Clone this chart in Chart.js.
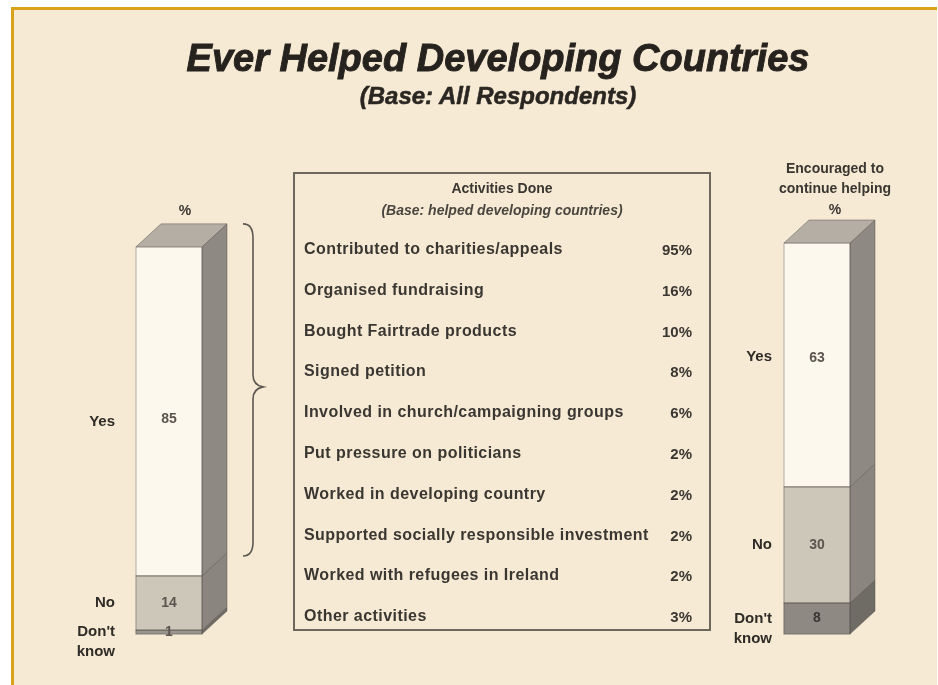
<!DOCTYPE html>
<html>
<head>
<meta charset="utf-8">
<script src="https://cdn.jsdelivr.net/npm/chart.js@4/dist/chart.umd.min.js"></script>
<style>
  html, body { margin: 0; padding: 0; background: #ffffff; }
  #frame {
    position: absolute; left: 11px; top: 7px; width: 926px; height: 678px;
    background: #f6ead5; border-left: 3px solid #d9a21b; border-top: 3px solid #d9a21b;
    box-sizing: border-box; overflow: hidden;
  }
  #wrap { position: absolute; left: 0; top: 0; width: 938px; height: 685px; }
  #chart { position: absolute; left: 0; top: 0; }
  .t { position: absolute; font-family: "Liberation Sans", Arial, sans-serif; color: #2f2b27; white-space: nowrap; }
  #title { left: 0; width: 996px; top: 37px; text-align: center; font-size: 38px; font-weight: bold; font-style: italic; color: #26221e; -webkit-text-stroke: 0.9px #26221e; }
  #subtitle { left: 0; width: 996px; top: 82px; text-align: center; font-size: 24px; font-weight: bold; font-style: italic; color: #2a2622; -webkit-text-stroke: 0.5px #2a2622; }
  #box { position: absolute; left: 293px; top: 172px; width: 418px; height: 459px; border: 2px solid #6d675e; box-sizing: border-box; }
  .hd { position: absolute; left: 0; width: 414px; text-align: center; font-family: "Liberation Sans", Arial, sans-serif; color: #3a3631; white-space: nowrap; }
  .row { position: absolute; left: 9px; font-family: "Liberation Sans", Arial, sans-serif; font-weight: bold; font-size: 16px; letter-spacing: 0.45px; color: #3a3631; white-space: nowrap; }
  .pct { position: absolute; right: 17px; font-family: "Liberation Sans", Arial, sans-serif; font-weight: bold; font-size: 15px; color: #3a3631; white-space: nowrap; text-align: right; }
  .head2 { position: absolute; left: 760px; width: 150px; text-align: center; font-family: "Liberation Sans", Arial, sans-serif; font-weight: bold; font-size: 14px; color: #3a3631; white-space: nowrap; }
</style>
</head>
<body>
<div id="frame"></div>
<div id="wrap">
  <canvas id="chart" width="938" height="685"></canvas>
  <div class="t" id="title">Ever Helped Developing Countries</div>
  <div class="t" id="subtitle">(Base: All Respondents)</div>
  <div class="head2" style="left:120px;width:130px;top:202px;">%</div>
  <div class="head2" style="top:160px;">Encouraged to</div>
  <div class="head2" style="top:180px;">continue helping</div>
  <div class="head2" style="top:201px;">%</div>
  <div id="box"></div>
</div>
<script>
// Stacked answers for the two survey questions (percent)
const bars = ['Ever helped', 'Encouraged to continue helping'];
const answers = ['Yes', 'No', "Don't know"];
const yesValues = [85, 63];
const noValues = [14, 30];
const dontKnowValues = [1, 8];

// Activities done by those who helped (percent)
const activities = [
  'Contributed to charities/appeals',
  'Organised fundraising',
  'Bought Fairtrade products',
  'Signed petition',
  'Involved in church/campaigning groups',
  'Put pressure on politicians',
  'Worked in developing country',
  'Supported socially responsible investment',
  'Worked with refugees in Ireland',
  'Other activities'
];
const activityValues = [95, 16, 10, 8, 6, 2, 2, 2, 2, 3];

// Activities table
const box = document.getElementById('box');
box.insertAdjacentHTML('beforeend',
  '<div class="hd" style="top:6px;font-size:14px;font-weight:bold;">Activities Done</div>' +
  '<div class="hd" style="top:28px;font-size:14px;font-style:italic;font-weight:bold;color:#4a463f;">(Base: helped developing countries)</div>');
activities.forEach((name, i) => {
  const top = 66 + i * 40.8;
  box.insertAdjacentHTML('beforeend',
    '<div class="row" style="top:' + top + 'px">' + name + '</div>' +
    '<div class="pct" style="top:' + (top + 1) + 'px">' + activityValues[i] + '%</div>');
});

// Stack order bottom-up: Don't know, No, Yes
const stackData = [dontKnowValues, noValues, yesValues];
const stackNames = [answers[2], answers[1], answers[0]];
const frontColors = [['#9a958d', '#8e8982'], '#cdc7b9', '#fdf8ee'];
const sideColors = ['#6f6b65', '#8a867f', '#8e8a83'];
const topColor = '#b4aea4';
const depthX = 25, depthY = 23;
const labelGap = [21, 12];
// vertical nudge of the "Yes" label per column
const yesLabelShift = [10, -8];

const cube = {
  id: 'cube',
  afterDatasetsDraw(chart) {
    const ctx = chart.ctx;
    ctx.save();
    const n = chart.data.labels.length;
    for (let b = 0; b < n; b++) {
      let topEl = null;
      chart.data.datasets.forEach((ds, d) => {
        const el = chart.getDatasetMeta(d).data[b];
        const p = el.getProps(['x', 'y', 'base', 'width'], true);
        const r = p.x + p.width / 2, l = p.x - p.width / 2;
        // right-hand face of the segment
        ctx.fillStyle = sideColors[d];
        ctx.beginPath();
        ctx.moveTo(r, p.base);
        ctx.lineTo(r + depthX, p.base - depthY);
        ctx.lineTo(r + depthX, p.y - depthY);
        ctx.lineTo(r, p.y);
        ctx.closePath();
        ctx.fill();
        ctx.strokeStyle = 'rgba(80,76,70,0.45)';
        ctx.lineWidth = 1;
        ctx.stroke();
        // outline of the front face
        ctx.strokeRect(l, p.y, p.width, p.base - p.y);
        topEl = p;
      });
      // lid of the column
      const l = topEl.x - topEl.width / 2, r = topEl.x + topEl.width / 2;
      ctx.fillStyle = topColor;
      ctx.beginPath();
      ctx.moveTo(l, topEl.y);
      ctx.lineTo(l + depthX, topEl.y - depthY);
      ctx.lineTo(r + depthX, topEl.y - depthY);
      ctx.lineTo(r, topEl.y);
      ctx.closePath();
      ctx.fill();
      ctx.strokeStyle = 'rgba(80,76,70,0.45)';
      ctx.stroke();
    }

    // values and answer labels
    ctx.textBaseline = 'middle';
    for (let b = 0; b < n; b++) {
      chart.data.datasets.forEach((ds, d) => {
        const el = chart.getDatasetMeta(d).data[b];
        const p = el.getProps(['x', 'y', 'base', 'width'], true);
        const cy = (p.y + p.base) / 2;
        const name = ds.label;
        const shift = name === 'Yes' ? yesLabelShift[b] : 0;
        ctx.font = 'bold 14px "Liberation Sans", Arial, sans-serif';
        ctx.fillStyle = d === 0 && b === 1 ? '#3a3631' : '#5a554e';
        ctx.textAlign = 'center';
        ctx.fillText(String(ds.data[b]), p.x, cy + shift * 0.8);
        ctx.font = 'bold 15px "Liberation Sans", Arial, sans-serif';
        ctx.fillStyle = '#2f2b27';
        ctx.textAlign = 'right';
        const lx = p.x - p.width / 2 - labelGap[b];
        if (name === "Don't know") {
          ctx.fillText("Don't", lx, cy);
          ctx.fillText('know', lx, cy + 20);
        } else {
          ctx.fillText(name, lx, cy + shift);
        }
      });
    }

    // brace grouping the "Yes" answers with the activities table
    const yesEl = chart.getDatasetMeta(2).data[0].getProps(['x', 'y', 'base', 'width'], true);
    const bx = yesEl.x + yesEl.width / 2 + depthX + 26;
    const top = yesEl.y - depthY, bot = yesEl.base - 20, mid = (top + bot) / 2 - 3;
    ctx.strokeStyle = '#5d5850';
    ctx.lineWidth = 1.6;
    ctx.beginPath();
    ctx.moveTo(bx - 10, top);
    ctx.quadraticCurveTo(bx, top, bx, top + 14);
    ctx.lineTo(bx, mid - 12);
    ctx.quadraticCurveTo(bx, mid - 2, bx + 10, mid);
    ctx.quadraticCurveTo(bx, mid + 2, bx, mid + 12);
    ctx.lineTo(bx, bot - 14);
    ctx.quadraticCurveTo(bx, bot, bx - 10, bot);
    ctx.stroke();
    ctx.restore();
  }
};

new Chart(document.getElementById('chart'), {
  type: 'bar',
  data: {
    labels: bars,
    datasets: stackData.map((vals, i) => ({
      label: stackNames[i],
      data: vals,
      backgroundColor: frontColors[i],
      borderWidth: 0,
      barThickness: 66,
      clip: false
    }))
  },
  options: {
    responsive: false,
    animation: false,
    events: [],
    layout: { padding: { left: 169, right: 121, top: 243, bottom: 51 } },
    scales: {
      x: { stacked: true, offset: false, display: false, grid: { offset: false } },
      y: { stacked: true, min: 0, max: 101, display: false }
    },
    plugins: { legend: { display: false }, tooltip: { enabled: false } }
  },
  plugins: [cube]
});
</script>
</body>
</html>
